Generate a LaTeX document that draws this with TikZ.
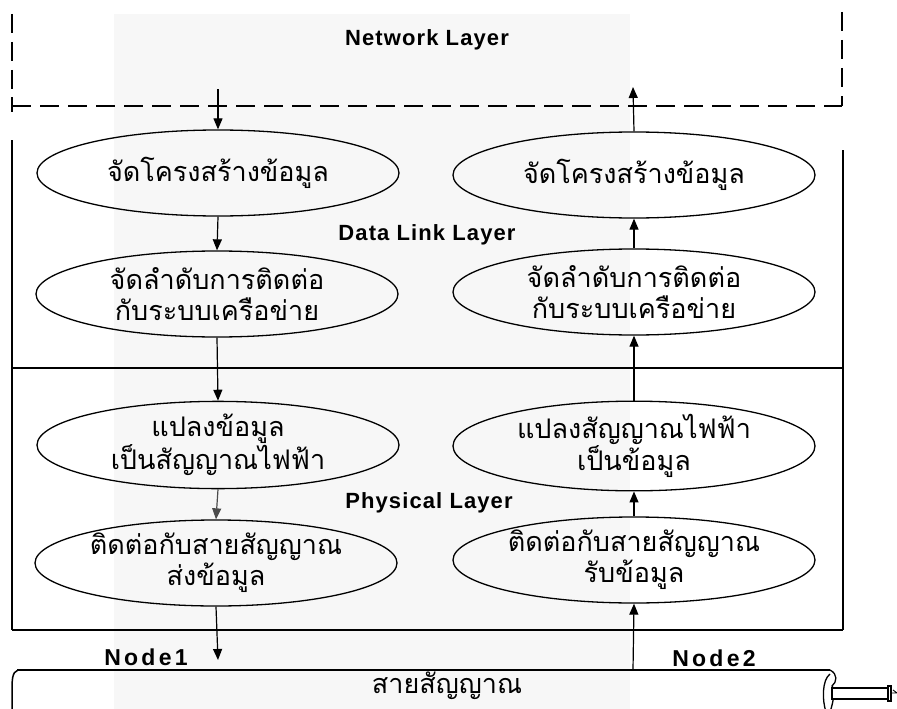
\documentclass[tikz,border=0pt]{standalone}
\usepackage{fontspec}
\setmainfont{Liberation Sans}
\newfontfamily\thaifont[Script=Thai]{Loma}
\usetikzlibrary{arrows.meta,shapes.geometric}

\tikzset{
  proc/.style={ellipse, draw, line width=1.3pt, inner sep=0pt, align=center,
    font=\thaifont\fontsize{27}{31}\selectfont,
    minimum width=362pt, minimum height=86pt},
  flow/.style={line width=1.2pt, -{Triangle[length=11pt,width=9pt]}},
  layerlbl/.style={font=\bfseries\fontsize{22}{24}\selectfont\addfontfeature{LetterSpace=5}},
  nodelbl/.style={font=\bfseries\fontsize{23}{25}\selectfont\addfontfeature{LetterSpace=14}},
  frameline/.style={line width=1.6pt},
  dashline/.style={line width=1.6pt, dash pattern=on 19pt off 9pt},
}

\begin{document}
\begin{tikzpicture}[x=1pt,y=-1pt]
\useasboundingbox (0,0) rectangle (897,709);
\begin{scope}
\clip (0,0) rectangle (897,709);

% faint background panel
\fill[black!3] (114,14) rectangle (630,709);

% Network layer (dashed, open at the top)
\draw[dashline] (12,14) -- (12,106);
\draw[dashline] (842,12) -- (842,106);
\draw[dashline] (12,106) -- (842,106);

% Data link and physical layer frames
\draw[frameline] (12,97) -- (12,112);
\draw[frameline] (12,140) -- (12,630);
\draw[frameline] (843,150) -- (843,630);
\draw[frameline] (12,368) -- (843,368);
\draw[frameline] (12,630) -- (843,630);

% layer names
\node[layerlbl] (net)  at (427,40)  {Network Layer};
\node[layerlbl] (dll)  at (427,235) {Data Link Layer};
\node[layerlbl] (phy)  at (429,503) {Physical Layer};

% sending side
\node[proc] (l1) at (218,173) {จัดโครงสร้างข้อมูล};
\node[proc] (l2) at (217,294) {จัดลำดับการติดต่อ\\กับระบบเครือข่าย};
\node[proc] (l3) at (218,445) {แปลงข้อมูล\\เป็นสัญญาณไฟฟ้า};
\node[proc] (l4) at (216,563) {ติดต่อกับสายสัญญาณ\\ส่งข้อมูล};

% receiving side
\node[proc] (r1) at (634,175) {จัดโครงสร้างข้อมูล};
\node[proc] (r2) at (634,292) {จัดลำดับการติดต่อ\\กับระบบเครือข่าย};
\node[proc] (r3) at (634,446) {แปลงสัญญาณไฟฟ้า\\เป็นข้อมูล};
\node[proc] (r4) at (634,560) {ติดต่อกับสายสัญญาณ\\รับข้อมูล};

% cable
\draw[line width=1.5pt] (17,670) -- (830,670);
\draw[line width=1.5pt] (18,670) .. controls (12,672) and (12,680) .. (12,692) -- (12,712);
\draw[line width=1.3pt] (830,670) .. controls (838,674) and (837,682) .. (832,686)
   .. controls (835,690) and (834,700) .. (830,712);
\draw[line width=1.3pt] (830,674) .. controls (822,680) and (822,700) .. (826,712);
\draw[line width=1.3pt, fill=white] (832,688) rectangle (889,699);
\draw[line width=1.1pt, fill=white] (888,686) rectangle (891,701);
\draw[line width=0.9pt] (891,693) -- (897,693) (893,690) -- (897,693);
\node[font=\thaifont\fontsize{27}{31}\selectfont] (cable) at (447,686) {สายสัญญาณ};

\node[nodelbl] (n1) at (146,657) {Node1};
\node[nodelbl] (n2) at (714,658) {Node2};

% connection points outside the ellipses
\coordinate (inL)  at (218,89);
\coordinate (outR) at (633,87);
\coordinate (txL)  at (218,660);
\coordinate (rxR)  at (633,670);

% data flow
\draw[flow] (inL) -- (l1.north);
\draw[flow] (l1.south) -- (l2.north);
\draw[flow] (l2.south) -- (l3.north);
\draw[flow, black!70] (l3.south) -- (l4.north);
\draw[flow] (l4.south) -- (txL);

\draw[flow] (rxR) -- (r4.south);
\draw[flow] (r4.north) -- (r3.south);
\draw[flow] (r3.north) -- (r2.south);
\draw[flow] (r2.north) -- (r1.south);
\draw[flow] (r1.north) -- (outR);
\end{scope}
\end{tikzpicture}
\end{document}
